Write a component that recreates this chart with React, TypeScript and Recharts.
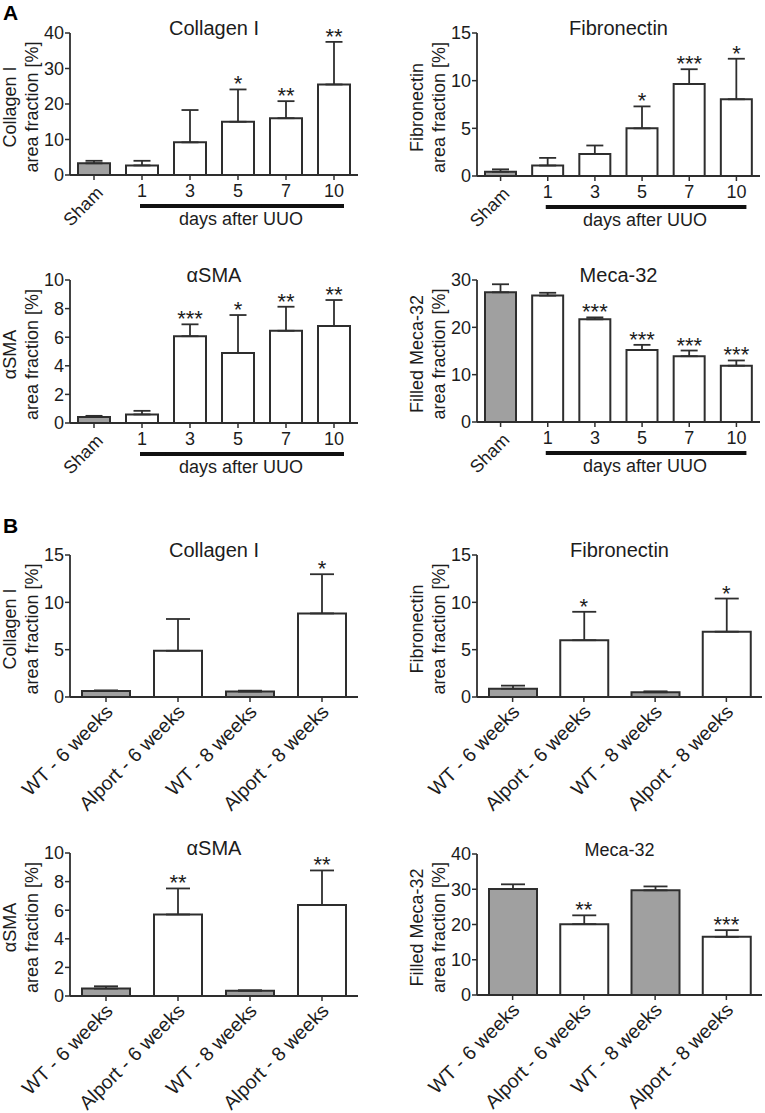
import {
  ComposedChart,
  Bar,
  Line,
  Cell,
  XAxis,
  YAxis,
  ErrorBar,
  LabelList,
} from "recharts";

// ---------------------------------------------------------------------------
// Data (mean and upper error bar, % area fraction)
// ---------------------------------------------------------------------------

const uuoDays = ["Sham", "1", "3", "5", "7", "10"];
const alportGroups = ["WT - 6 weeks", "Alport - 6 weeks", "WT - 8 weeks", "Alport - 8 weeks"];

const uuoCollagenMean = [3.3, 2.7, 9.2, 15.0, 16.0, 25.5];
const uuoCollagenErr = [0.7, 1.3, 9.1, 9.1, 4.8, 12.0];
const uuoCollagenStars = ["", "", "", "*", "**", "**"];

const uuoFibronectinMean = [0.45, 1.1, 2.3, 5.0, 9.65, 8.05];
const uuoFibronectinErr = [0.25, 0.8, 0.9, 2.3, 1.55, 4.25];
const uuoFibronectinStars = ["", "", "", "*", "***", "*"];

const uuoSmaMean = [0.42, 0.6, 6.07, 4.9, 6.45, 6.78];
const uuoSmaErr = [0.08, 0.25, 0.83, 2.65, 1.68, 1.82];
const uuoSmaStars = ["", "", "***", "*", "**", "**"];

const uuoMecaMean = [27.4, 26.7, 21.7, 15.2, 13.9, 11.9];
const uuoMecaErr = [1.7, 0.6, 0.4, 1.1, 1.2, 1.1];
const uuoMecaStars = ["", "", "***", "***", "***", "***"];

const alpCollagenMean = [0.64, 4.88, 0.57, 8.83];
const alpCollagenErr = [0.06, 3.36, 0.1, 4.14];
const alpCollagenStars = ["", "", "", "*"];

const alpFibronectinMean = [0.88, 6.0, 0.5, 6.9];
const alpFibronectinErr = [0.32, 3.0, 0.1, 3.5];
const alpFibronectinStars = ["", "*", "", "*"];

const alpSmaMean = [0.52, 5.7, 0.37, 6.37];
const alpSmaErr = [0.16, 1.82, 0.03, 2.41];
const alpSmaStars = ["", "**", "", "**"];

const alpMecaMean = [30.1, 20.1, 29.7, 16.5];
const alpMecaErr = [1.3, 2.5, 1.1, 1.9];
const alpMecaStars = ["", "**", "", "***"];

// ---------------------------------------------------------------------------
// Style
// ---------------------------------------------------------------------------

const FONT = "'Liberation Sans', Arial, Helvetica, sans-serif";
const INK = "#1c1c1c";
const LINE = "#2e2e2e";
const CONTROL_FILL = "#a0a0a0";

type Kind = "uuo" | "alport";

interface PanelSpec {
  left: number;
  top: number;
  width: number;
  height: number;
  plotLeft: number;
  plotRight: number;
  plotTop: number;
  plotBottom: number;
  kind: Kind;
  categories: string[];
  means: number[];
  errs: number[];
  stars: string[];
  max: number;
  ticks: number[];
  title: string;
  titleSize?: number;
  yLabel: [string, string];
  barSize: number;
  capHalf: number;
}

function isControl(name: string) {
  return name === "Sham" || name.startsWith("WT");
}

// ---------------------------------------------------------------------------
// Ticks
// ---------------------------------------------------------------------------

function UuoTick(props: any) {
  const { x, y, payload } = props;
  const idx: number = payload.index;
  const half: number = (payload.offset ?? 23.6) + 0.8;
  const axisY = y - 5;
  if (idx === 0) {
    const ax = x + 10;
    const ay = axisY + 19;
    return (
      <text x={ax} y={ay} transform={`rotate(-45 ${ax} ${ay})`} textAnchor="end"
        fontSize={18} fontFamily={FONT} fill={INK}>
        {payload.value}
      </text>
    );
  }
  const last = idx === uuoDays.length - 1;
  const x1 = idx === 1 ? x - 2 : x - half;
  const x2 = last ? x + 10 : x + half;
  return (
    <g>
      <text x={x} y={axisY + 22} textAnchor="middle" fontSize={18} fontFamily={FONT} fill={INK}>
        {payload.value}
      </text>
      <line x1={x1} x2={x2} y1={axisY + 31} y2={axisY + 31} stroke="#111" strokeWidth={4} />
      {idx === 3 && (
        <text x={x + 3} y={axisY + 50} textAnchor="middle" fontSize={18} fontFamily={FONT} fill={INK}>
          days after UUO
        </text>
      )}
    </g>
  );
}

function GroupTick(props: any) {
  const { x, y, payload } = props;
  const ax = x + 8;
  const ay = y - 5 + 16;
  return (
    <text x={ax} y={ay} transform={`rotate(-45 ${ax} ${ay})`} textAnchor="end"
      fontSize={19.5} fontFamily={FONT} fill={INK}>
      {payload.value}
    </text>
  );
}

function StarLabel(props: any) {
  const { x, y, value } = props;
  if (!value) return <g />;
  return (
    <text x={x} y={y + 2} textAnchor="middle" fontSize={22} fontFamily={FONT} fill={INK}>
      {value}
    </text>
  );
}

// ---------------------------------------------------------------------------
// Panel
// ---------------------------------------------------------------------------

function Panel({ p }: { p: PanelSpec }) {
  const data = p.categories.map((name, i) => ({
    name,
    value: p.means[i],
    err: [0, p.errs[i]],
    top: p.means[i] + p.errs[i],
    star: p.stars[i],
  }));

  const yAxisWidth = p.plotLeft - p.left;
  const xAxisHeight = p.top + p.height - p.plotBottom;
  const axisX = p.plotLeft - p.left;
  const cy = (p.plotTop + p.plotBottom) / 2 - p.top + 3;
  const titleX = (p.plotLeft + p.plotRight) / 2 - p.left;
  const titleY = p.plotTop - p.top + 2;

  return (
    <div style={{ position: "absolute", left: p.left, top: p.top, width: p.width, height: p.height }}>
      <ComposedChart
        width={p.width}
        height={p.height}
        data={data}
        margin={{ top: p.plotTop - p.top, right: p.left + p.width - p.plotRight, bottom: 0, left: 0 }}
      >
        <XAxis
          dataKey="name"
          type="category"
          interval={0}
          height={xAxisHeight}
          tickSize={5}
          tickMargin={0}
          axisLine={{ stroke: LINE, strokeWidth: 1.8 }}
          tickLine={{ stroke: LINE, strokeWidth: 1.5 }}
          tick={p.kind === "uuo" ? <UuoTick /> : <GroupTick />}
        />
        <YAxis
          width={yAxisWidth}
          domain={[0, p.max]}
          ticks={p.ticks}
          interval={0}
          allowDataOverflow
          tickSize={5}
          tickMargin={1}
          axisLine={{ stroke: LINE, strokeWidth: 1.8 }}
          tickLine={{ stroke: LINE, strokeWidth: 1.5 }}
          tick={{ fontSize: 18, fontFamily: FONT, fill: INK }}
        />
        <Bar
          dataKey="value"
          barSize={p.barSize}
          stroke={LINE}
          strokeWidth={2}
          isAnimationActive={false}
        >
          {data.map((d, i) => (
            <Cell key={i} fill={isControl(d.name) ? CONTROL_FILL : "#ffffff"} />
          ))}
          <ErrorBar
            dataKey="err"
            direction="y"
            width={p.capHalf}
            stroke={LINE}
            strokeWidth={1.8}
            isAnimationActive={false}
          />
        </Bar>
        <Line
          dataKey="top"
          stroke="none"
          dot={false}
          activeDot={false}
          legendType="none"
          isAnimationActive={false}
        >
          <LabelList dataKey="star" content={<StarLabel />} />
        </Line>
      </ComposedChart>
      <svg
        width={p.width}
        height={p.height}
        style={{ position: "absolute", left: 0, top: 0, pointerEvents: "none" }}
        fontFamily={FONT}
        fill={INK}
      >
        <text x={titleX} y={titleY} textAnchor="middle" fontSize={p.titleSize ?? 20}>
          {p.title}
        </text>
        <text x={axisX - 54} y={cy} transform={`rotate(-90 ${axisX - 54} ${cy})`}
          textAnchor="middle" fontSize={18}>
          {p.yLabel[0]}
        </text>
        <text x={axisX - 32} y={cy} transform={`rotate(-90 ${axisX - 32} ${cy})`}
          textAnchor="middle" fontSize={18}>
          {p.yLabel[1]}
        </text>
      </svg>
    </div>
  );
}

// ---------------------------------------------------------------------------
// Layout
// ---------------------------------------------------------------------------

const panels: PanelSpec[] = [
  {
    left: 0, top: 0, width: 380, height: 250,
    plotLeft: 70, plotRight: 358, plotTop: 33, plotBottom: 175,
    kind: "uuo", categories: uuoDays, means: uuoCollagenMean, errs: uuoCollagenErr, stars: uuoCollagenStars,
    max: 40, ticks: [0, 10, 20, 30, 40], title: "Collagen I",
    yLabel: ["Collagen I", "area fraction [%]"], barSize: 32, capHalf: 8.5,
  },
  {
    left: 380, top: 0, width: 385, height: 250,
    plotLeft: 477, plotRight: 760, plotTop: 33, plotBottom: 176,
    kind: "uuo", categories: uuoDays, means: uuoFibronectinMean, errs: uuoFibronectinErr, stars: uuoFibronectinStars,
    max: 15, ticks: [0, 5, 10, 15], title: "Fibronectin",
    yLabel: ["Fibronectin", "area fraction [%]"], barSize: 31, capHalf: 8.5,
  },
  {
    left: 0, top: 250, width: 380, height: 255,
    plotLeft: 70, plotRight: 358, plotTop: 280, plotBottom: 423,
    kind: "uuo", categories: uuoDays, means: uuoSmaMean, errs: uuoSmaErr, stars: uuoSmaStars,
    max: 10, ticks: [0, 2, 4, 6, 8, 10], title: "\u03b1SMA",
    yLabel: ["\u03b1SMA", "area fraction [%]"], barSize: 32, capHalf: 8.5,
  },
  {
    left: 380, top: 250, width: 385, height: 255,
    plotLeft: 477, plotRight: 760, plotTop: 280, plotBottom: 422,
    kind: "uuo", categories: uuoDays, means: uuoMecaMean, errs: uuoMecaErr, stars: uuoMecaStars,
    max: 30, ticks: [0, 10, 20, 30], title: "Meca-32",
    yLabel: ["Filled Meca-32", "area fraction [%]"], barSize: 31, capHalf: 8.5,
  },
  {
    left: 0, top: 505, width: 380, height: 315,
    plotLeft: 70, plotRight: 358, plotTop: 555, plotBottom: 697,
    kind: "alport", categories: alportGroups, means: alpCollagenMean, errs: alpCollagenErr, stars: alpCollagenStars,
    max: 15, ticks: [0, 5, 10, 15], title: "Collagen I",
    yLabel: ["Collagen I", "area fraction [%]"], barSize: 48, capHalf: 12,
  },
  {
    left: 380, top: 505, width: 385, height: 315,
    plotLeft: 477, plotRight: 762, plotTop: 555, plotBottom: 697,
    kind: "alport", categories: alportGroups, means: alpFibronectinMean, errs: alpFibronectinErr, stars: alpFibronectinStars,
    max: 15, ticks: [0, 5, 10, 15], title: "Fibronectin",
    yLabel: ["Fibronectin", "area fraction [%]"], barSize: 48, capHalf: 12,
  },
  {
    left: 0, top: 815, width: 380, height: 298,
    plotLeft: 70, plotRight: 358, plotTop: 853, plotBottom: 996,
    kind: "alport", categories: alportGroups, means: alpSmaMean, errs: alpSmaErr, stars: alpSmaStars,
    max: 10, ticks: [0, 2, 4, 6, 8, 10], title: "\u03b1SMA",
    yLabel: ["\u03b1SMA", "area fraction [%]"], barSize: 48, capHalf: 12,
  },
  {
    left: 380, top: 815, width: 385, height: 298,
    plotLeft: 477, plotRight: 762, plotTop: 854, plotBottom: 995,
    kind: "alport", categories: alportGroups, means: alpMecaMean, errs: alpMecaErr, stars: alpMecaStars,
    max: 40, ticks: [0, 10, 20, 30, 40], title: "Meca-32", titleSize: 18,
    yLabel: ["Filled Meca-32", "area fraction [%]"], barSize: 48, capHalf: 12,
  },
];

export default function App() {
  return (
    <div
      style={{
        position: "absolute",
        left: 0,
        top: 0,
        width: 765,
        height: 1113,
        background: "#ffffff",
        fontFamily: FONT,
        overflow: "hidden",
      }}
    >
      {panels.map((p, i) => (
        <Panel key={i} p={p} />
      ))}
      <svg width={765} height={1113} style={{ position: "absolute", left: 0, top: 0, pointerEvents: "none" }}>
        <text x={3} y={20} fontSize={21} fontWeight="bold" fontFamily={FONT} fill="#000">A</text>
        <text x={3} y={533} fontSize={21} fontWeight="bold" fontFamily={FONT} fill="#000">B</text>
      </svg>
    </div>
  );
}
